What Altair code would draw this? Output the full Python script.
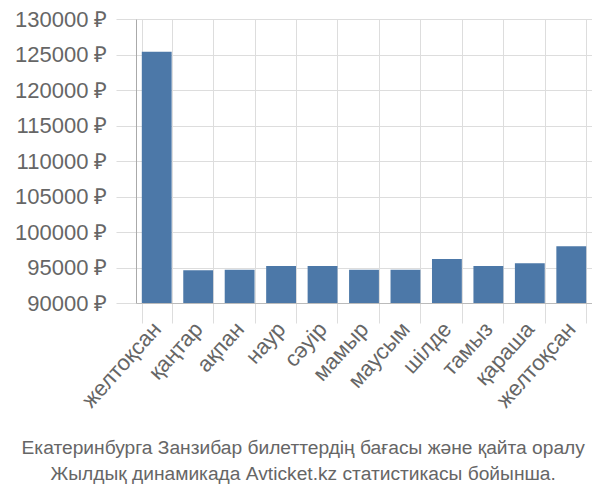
import json
import altair as alt
import pandas as pd

months = ["желтоқсан", "қаңтар", "ақпан", "наур", "сәуір", "мамыр",
          "маусым", "шілде", "тамыз", "қараша", "желтоқсан"]
prices = [125400, 94600, 94700, 95200, 95200, 94700, 94700, 96200, 95200, 95600, 98000]
y_ticks = [90000, 95000, 100000, 105000, 110000, 115000, 120000, 125000, 130000]
title_lines = ["Екатеринбурга Занзибар билеттердің бағасы және қайта оралу",
               "Жылдық динамикада Avticket.kz статистикасы бойынша."]

df = pd.DataFrame({"i": list(range(len(months))), "price": prices})
label_expr = json.dumps(months, ensure_ascii=False) + "[datum.value]"

FONT = "Liberation Sans"
GREY = "#666666"

chart = alt.Chart(df).mark_bar(color="#4c78a8", clip=True).encode(
    x=alt.X("i:O", title=None,
            scale=alt.Scale(paddingInner=0.28, paddingOuter=0.14),
            axis=alt.Axis(labelExpr=label_expr, labelAngle=-48, labelFontSize=22,
                          labelColor=GREY, labelFont=FONT, tickBand="extent",
                          grid=True, gridColor="#dddddd", tickColor="#dddddd",
                          tickSize=20, domainColor="#bbbbbb", labelPadding=2)),
    y=alt.Y("price:Q", title=None,
            scale=alt.Scale(domain=[90000, 130000], nice=False, zero=False),
            axis=alt.Axis(values=y_ticks, labelExpr="datum.value + ' ₽'",
                          labelFontSize=22, labelColor=GREY, labelFont=FONT,
                          gridColor="#dddddd", tickColor="#dddddd", tickSize=20,
                          domainColor="#aaaaaa", labelPadding=9)),
).properties(
    width=456, height=284,
    autosize=alt.AutoSizeParams(type="none"),
    padding={"left": 128, "top": 11, "right": 0, "bottom": 188},
    title=alt.TitleParams(text=title_lines, orient="bottom", anchor="middle",
                          frame="bounds", fontSize=19.2, font=FONT,
                          fontWeight="normal", color=GREY, offset=28, lineHeight=26),
).configure_view(stroke=None)

chart.save("out.html", embed_options={"renderer": "svg", "actions": False})
